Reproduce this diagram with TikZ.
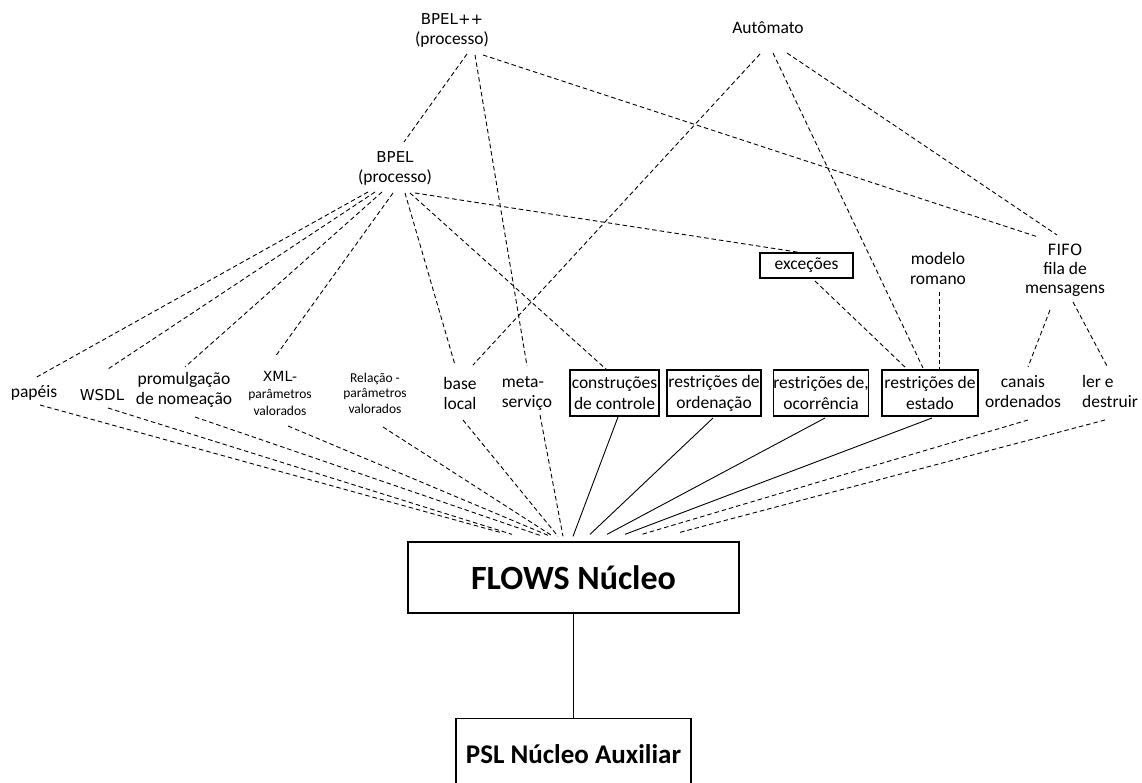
\documentclass[tikz,border=0pt]{standalone}
\usepackage{fontspec}
\setmainfont{Carlito}
\newfontfamily\capsfont{DejaVu Sans}
\begin{document}
\begin{tikzpicture}[x=1pt,y=-1pt,
  lbl/.style={inner sep=0pt, align=center, font=\fontsize{17.5}{20}\selectfont},
  small/.style={inner sep=0pt, align=center, font=\fontsize{13.5}{17}\selectfont},
  box/.style={draw, line width=1.4pt, inner sep=0pt, align=center, minimum height=46pt, font=\fontsize{17.5}{21}\selectfont},
  core/.style={draw, line width=1.3pt, inner sep=0pt},
  dl/.style={line width=0.9pt, dash pattern=on 4.5pt off 3pt},
  sl/.style={line width=0.9pt},
]
\useasboundingbox (0,0) rectangle (1142,783);
\clip (0,0) rectangle (1142,783);

% upper level
\node[lbl] (bpp) at (452,30) {{\capsfont\fontsize{15}{20}\selectfont BPEL++}\\(processo)};
\node[lbl] (aut) at (768,28) {Autômato};
\node[lbl] (bpel) at (395,168) {{\capsfont\fontsize{15}{20}\selectfont BPEL}\\(processo)};
\node[box, minimum width=93pt, minimum height=25pt] (exc) at (806.5,265.5) {exceções};
\node[lbl] (romano) at (938,268) {modelo\\romano};
\node[lbl, font=\fontsize{17.5}{19}\selectfont] (fifo) at (1065,270) {{\capsfont\fontsize{15.5}{19}\selectfont FIFO}\\fila de\\mensagens};

% feature row
\node[lbl] (papeis) at (34,393) {papéis};
\node[lbl, font=\capsfont\fontsize{15}{20}\selectfont] (wsdl) at (102,395) {WSDL};
\node[lbl] (prom) at (184,390) {promulgação\\de nomeação};
\node[small] (xml) at (280,393) {{\capsfont\fontsize{14}{17}\selectfont XML-}\\parâmetros\\valorados};
\node[small, font=\fontsize{13.5}{15.5}\selectfont] (rel) at (375,393) {Relação -\\parâmetros\\valorados};
\node[lbl] (base) at (460,393) {base\\local};
\node[lbl, align=left] (meta) at (527,393) {meta-\\serviço};
\node[box, minimum width=89pt] (constr) at (614.5,393) {construções\\de controle};
\node[box, minimum width=94pt] (orden) at (714,393) {restrições de\\ordenação};
\node[box, minimum width=92pt] (ocorr) at (821,393) {restrições de,\\ocorrência};
\node[box, minimum width=96pt] (estado) at (930,393) {restrições de\\estado};
\node[lbl] (canais) at (1023,392) {canais\\ordenados};
\node[lbl, align=left] (ler) at (1110,391) {ler e\\destruir};

% cores
\node[core, minimum width=331pt, minimum height=71pt, font=\bfseries\fontsize{34}{40}\selectfont] (flows) at (573.5,577.5) {FLOWS Núcleo};
\node[core, anchor=north, minimum width=235pt, minimum height=70pt, font=\bfseries\fontsize{27}{32}\selectfont] (psl) at (573.5,718) {PSL Núcleo Auxiliar};

% links from the process languages and the automaton
\draw[dl] ([shift={(15,24)}]bpp.center) -- ([shift={(9,-26)}]bpel.center);
\draw[dl] ([shift={(23,25)}]bpp.center) -- ([shift={(0,-27)}]meta.center);
\draw[dl] ([shift={(31,25)}]bpp.center) -- ([shift={(-27,-33)}]fifo.center);
\draw[dl] ([shift={(-8,26)}]aut.center) -- ([shift={(13,-28)}]base.center);
\draw[dl] ([shift={(5,25)}]aut.center) -- ([shift={(-7,-25)}]estado.center);
\draw[dl] ([shift={(19,25)}]aut.center) -- ([shift={(-8,-35)}]fifo.center);
\draw[dl] ([shift={(-27,24)}]bpel.center) -- ([shift={(1,-15)}]papeis.center);
\draw[dl] ([shift={(-20,24)}]bpel.center) -- ([shift={(6,-26)}]wsdl.center);
\draw[dl] ([shift={(-13,24)}]bpel.center) -- ([shift={(1,-23)}]prom.center);
\draw[dl] ([shift={(-2,25)}]bpel.center) -- ([shift={(-5,-36)}]xml.center);
\draw[dl] ([shift={(10,25)}]bpel.center) -- ([shift={(-5,-28)}]base.center);
\draw[dl] ([shift={(15,25)}]bpel.center) -- ([shift={(-7.5,-23)}]constr.center);
\draw[dl] ([shift={(20,25)}]bpel.center) -- ([shift={(-6.5,-13)}]exc.center);
\draw[dl] ([shift={(8.5,15.5)}]exc.center) -- ([shift={(-23,-24)}]estado.center);
\draw[dl] ([shift={(1,24)}]romano.center) -- ([shift={(9,-24)}]estado.center);
\draw[dl] ([shift={(-15,40)}]fifo.center) -- ([shift={(5,-25)}]canais.center);
\draw[dl] ([shift={(8,32)}]fifo.center) -- ([shift={(-2,-23)}]ler.center);

% links into the FLOWS core
\draw[dl] ([shift={(6,12)}]papeis.center) -- ([shift={(-73.5,-9)}]flows.north);
\draw[dl] ([shift={(6,13)}]wsdl.center) -- ([shift={(-61.5,-7)}]flows.north);
\draw[dl] ([shift={(11,27)}]prom.center) -- ([shift={(-33.5,-6)}]flows.north);
\draw[dl] ([shift={(8,33)}]xml.center) -- ([shift={(-25.5,-6)}]flows.north);
\draw[dl] ([shift={(8,34)}]rel.center) -- ([shift={(-20.5,-5)}]flows.north);
\draw[dl] ([shift={(3,27)}]base.center) -- ([shift={(-15.5,-5)}]flows.north);
\draw[dl] ([shift={(13,22)}]meta.center) -- ([shift={(-10.5,-5)}]flows.north);
\draw[sl] ([shift={(3.5,24)}]constr.center) -- ([shift={(-0.5,-5)}]flows.north);
\draw[sl] ([shift={(-1,25)}]orden.center) -- ([shift={(16.5,-7)}]flows.north);
\draw[sl] ([shift={(4,25)}]ocorr.center) -- ([shift={(33.5,-7)}]flows.north);
\draw[sl] ([shift={(2,25)}]estado.center) -- ([shift={(51.5,-7)}]flows.north);
\draw[dl] ([shift={(5,28)}]canais.center) -- ([shift={(68.5,-7)}]flows.north);
\draw[dl] ([shift={(-5,29)}]ler.center) -- ([shift={(106.5,-9)}]flows.north);

% core to auxiliary core
\draw[sl] (flows.south) -- (psl.north);
\end{tikzpicture}
\end{document}
